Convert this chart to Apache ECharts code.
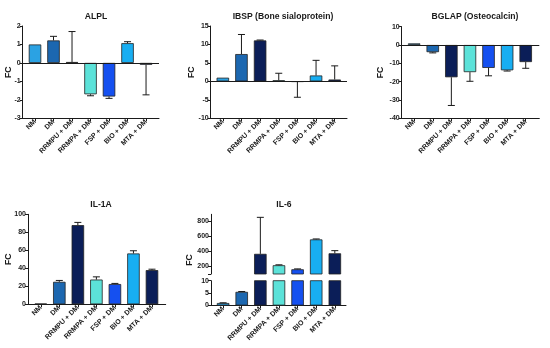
<!DOCTYPE html>
<html><head><meta charset="utf-8">
<script src="https://cdn.jsdelivr.net/npm/echarts@6/dist/echarts.min.js"></script>
<style>html,body{margin:0;padding:0;background:#fff}#c{width:550px;height:348px}</style>
</head><body><div id="c"></div>
<script>
// ---- data ----
const categories = ['NM', 'DM', 'RRMPU + DM', 'RRMPA + DM', 'FSP + DM', 'BIO + DM', 'MTA + DM'];
const barColors = ['#2BA2E3', '#1C67B0', '#0B1E58', '#5CE2D9', '#1550F0', '#18AEF2', '#0B1E58'];

const alplMean = [1.0, 1.22, 0.05, -1.70, -1.82, 1.07, -0.10];
const alplErr  = [0, 0.22, 1.65, 0.08, 0.10, 0.08, 1.63];

const ibspMean = [1.0, 7.4, 11.1, 0.3, -0.1, 1.6, 0.5];
const ibspErr  = [0, 5.3, 0.1, 1.9, 4.2, 4.1, 3.7];

const bglapMean = [0.9, -3.9, -17.6, -14.8, -12.5, -13.8, -9.3];
const bglapErr  = [0, 0.4, 15.4, 5.0, 4.3, 0.4, 3.4];

const il1aMean = [0.8, 25, 88, 27.5, 22.5, 56.5, 38];
const il1aErr  = [0, 1.5, 3, 3, 0.7, 3, 1];

const il6Mean = [1, 5.5, 365, 215, 162, 555, 372];
const il6Err  = [0.1, 0.15, 480, 6, 5, 6, 35];

const il6UpperTicks = [100, 200, 400, 600, 800];
const il6UpperLabels = [200, 400, 600, 800];

// ---- style ----
const FONT = '"Liberation Sans", Arial, Helvetica, sans-serif';
const INK = '#1a1a1a';
const TICK_FS = 7;
const CAT_FS = 7;
const TITLE_FS = 8.6;
const NAME_FS = 8.6;
const idx = categories.map((c, i) => i);

const chart = echarts.init(document.getElementById('c'), null, {renderer: 'canvas'});

const grids = [], xAxes = [], yAxes = [], series = [], titles = [], graphics = [];

function errorSeries(gi, mean, err, keep) {
  return {
    type: 'custom', xAxisIndex: gi, yAxisIndex: gi, z: 5, silent: true,
    data: mean.map((m, i) => [i, m, err[i]]).filter(d => keep(d[1])),
    encode: {x: 0, y: 1},
    renderItem: function (params, api) {
      const x = api.value(0), m = api.value(1), e = api.value(2);
      if (!e) return null;
      const end = m >= 0 ? m + e : m - e;
      const p0 = api.coord([x, m]), p1 = api.coord([x, end]);
      const hw = 3.5;
      const st = {stroke: INK, lineWidth: 1};
      return {type: 'group', children: [
        {type: 'line', shape: {x1: p0[0], y1: p0[1], x2: p1[0], y2: p1[1]}, style: st},
        {type: 'line', shape: {x1: p1[0] - hw, y1: p1[1], x2: p1[0] + hw, y2: p1[1]}, style: st}
      ]};
    }
  };
}

function addPanel(p) {
  const gi = grids.length;
  grids.push({left: p.left, top: p.top, width: p.width, height: p.height, containLabel: false});
  xAxes.push({
    gridIndex: gi, type: 'value', min: p.xMin, max: p.xMax,
    show: p.showX !== false,
    axisLine: {show: true, onZero: false, lineStyle: {color: INK, width: 1}},
    axisTick: {show: true, length: 3, customValues: idx, lineStyle: {color: INK, width: 1}},
    axisLabel: {show: true, customValues: idx, rotate: 45, margin: 2.5, interval: 0,
      formatter: v => categories[Math.round(v)] || '',
      fontFamily: FONT, fontWeight: 'bold', fontSize: CAT_FS, color: INK},
    splitLine: {show: false}
  });
  const y = {
    gridIndex: gi, type: 'value', min: p.yMin, max: p.yMax,
    axisLine: {show: true, onZero: false, lineStyle: {color: INK, width: 1}},
    axisTick: {show: true, length: 3, lineStyle: {color: INK, width: 1}},
    axisLabel: {show: true, margin: 2, fontFamily: FONT, fontWeight: 'bold', fontSize: TICK_FS, color: INK},
    splitLine: {show: false}
  };
  if (p.yInt) y.interval = p.yInt;
  if (p.tickValues) { y.axisTick.customValues = p.tickValues; y.axisLabel.customValues = p.labelValues; }
  if (p.nameGap) {
    y.name = 'FC'; y.nameLocation = 'middle'; y.nameRotate = 90; y.nameGap = p.nameGap;
    y.nameMoveOverlap = false;
    y.nameTextStyle = {fontFamily: FONT, fontWeight: 'bold', fontSize: NAME_FS, color: INK};
  }
  yAxes.push(y);
  const keep = p.keep || (() => true);
  const bar = {
    type: 'bar', xAxisIndex: gi, yAxisIndex: gi, barWidth: 12.5, clip: true, silent: true,
    data: p.mean.map((m, i) => keep(m) ? [i, m] : [i, '-']),
    itemStyle: {color: prm => barColors[prm.dataIndex], borderColor: '#222', borderWidth: 0.8}
  };
  if (p.zeroLine) {
    bar.markLine = {silent: true, symbol: 'none', label: {show: false},
      lineStyle: {color: INK, width: 1, type: 'solid'}, data: [{yAxis: 0}]};
  }
  series.push(bar);
  series.push(errorSeries(gi, p.mean, p.err, keep));
  if (p.title) {
    titles.push({text: p.title, left: p.titleX, top: p.titleY, textAlign: 'center',
      textStyle: {fontFamily: FONT, fontWeight: 'bold', fontSize: TITLE_FS, color: INK}});
  }
}

addPanel({title: 'ALPL', titleX: 91, titleY: 7.5, mean: alplMean, err: alplErr,
  yMin: -3, yMax: 2, yInt: 1, left: 22.7, top: 26, width: 136.3, height: 92.3,
  xMin: -0.665, xMax: 6.70, nameGap: 10, zeroLine: true});
addPanel({title: 'IBSP (Bone sialoprotein)', titleX: 278, titleY: 7.5, mean: ibspMean, err: ibspErr,
  yMin: -10, yMax: 15, yInt: 5, left: 210.7, top: 26, width: 136.3, height: 92.3,
  xMin: -0.65, xMax: 6.66, nameGap: 14.5, zeroLine: true});
addPanel({title: 'BGLAP (Osteocalcin)', titleX: 470, titleY: 7.5, mean: bglapMean, err: bglapErr,
  yMin: -40, yMax: 10, yInt: 10, left: 401.7, top: 26.7, width: 137.6, height: 91.6,
  xMin: -0.67, xMax: 6.73, nameGap: 16.5, zeroLine: true});
addPanel({title: 'IL-1A', titleX: 96, titleY: 195, mean: il1aMean, err: il1aErr,
  yMin: 0, yMax: 100, yInt: 20, left: 28, top: 214.3, width: 137.7, height: 90,
  xMin: -0.69, xMax: 6.74, nameGap: 14.5});
// IL-6 broken axis: upper segment
addPanel({title: 'IL-6', titleX: 279, titleY: 195, mean: il6Mean, err: il6Err,
  yMin: 100, yMax: 885, tickValues: il6UpperTicks, labelValues: il6UpperLabels,
  left: 211, top: 214.3, width: 135, height: 59.7, xMin: -0.65, xMax: 6.6,
  showX: false, keep: v => v >= 100});
// IL-6 lower segment
addPanel({mean: il6Mean, err: il6Err, yMin: 0, yMax: 10, yInt: 5,
  left: 211, top: 280.7, width: 135, height: 24.8, xMin: -0.65, xMax: 6.6});

graphics.push({type: 'text', x: 190, y: 260, rotation: Math.PI / 2,
  style: {text: 'FC', align: 'center', verticalAlign: 'middle',
    font: 'bold ' + NAME_FS + 'px ' + FONT, fill: INK}});

chart.setOption({
  animation: false,
  backgroundColor: '#fff',
  title: titles,
  grid: grids, xAxis: xAxes, yAxis: yAxes, series: series,
  graphic: graphics
});
</script>
</body></html>
